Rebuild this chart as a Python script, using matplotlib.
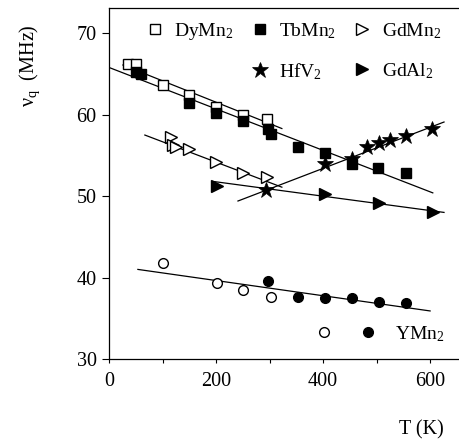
import matplotlib
matplotlib.use("Agg")
import matplotlib.pyplot as plt
from matplotlib.lines import Line2D
from matplotlib.legend_handler import HandlerTuple

plt.rcParams['font.family'] = ['Liberation Serif', 'DejaVu Serif']
plt.rcParams['mathtext.fontset'] = 'custom'
plt.rcParams['mathtext.rm'] = 'Liberation Serif'
plt.rcParams['mathtext.it'] = 'Liberation Serif:italic'

# ---- data ----
dy_T = [35, 50, 100, 150, 200, 250, 295]
dy_v = [66.2, 66.2, 63.6, 62.4, 61.0, 60.0, 59.5]
dy_fit_T = [26, 323]
dy_fit_v = [66.1, 58.3]

tb_T = [50, 60, 150, 200, 250, 297, 303, 353, 404, 454, 503, 555]
tb_v = [65.2, 65.0, 61.4, 60.2, 59.2, 58.2, 57.6, 56.0, 55.3, 54.0, 53.4, 52.8]
tb_fit_T = [0, 605]
tb_fit_v = [65.8, 50.4]

gd_T = [115, 120, 125, 150, 200, 250, 295]
gd_v = [57.2, 56.3, 56.0, 55.8, 54.2, 52.8, 52.3]
gd_fit_T = [67, 323]
gd_fit_v = [57.5, 51.1]

hf_T = [293, 404, 454, 482, 505, 525, 555, 604]
hf_v = [50.7, 54.0, 54.5, 56.0, 56.5, 56.9, 57.4, 58.3]
hf_fit_T = [241, 626]
hf_fit_v = [49.4, 59.1]

al_T = [202, 404, 505, 606]
al_v = [51.3, 50.2, 49.1, 48.0]
al_fit_T = [195, 626]
al_fit_v = [51.8, 48.0]

y_open_T = [101, 202, 250, 303]
y_open_v = [41.8, 39.3, 38.5, 37.6]
y_fill_T = [297, 353, 404, 454, 505, 555]
y_fill_v = [39.6, 37.6, 37.5, 37.5, 37.0, 36.9]
y_fit_T = [54, 600]
y_fit_v = [41.0, 35.9]

labels = ['DyMn$_2$', 'TbMn$_2$', 'GdMn$_2$', 'HfV$_2$', 'GdAl$_2$', 'YMn$_2$']
xticks = [0, 200, 400, 600]
yticks = [30, 40, 50, 60, 70]

# ---- figure ----
W, H = 459, 444
fig = plt.figure(figsize=(W / 100, H / 100), dpi=100)
ax = fig.add_axes([109 / W, (H - 359) / H, 1 - 109 / W, (359 - 8) / H])

lw = 0.9
kw = dict(color='black', lw=lw)
for ft, fv in [(dy_fit_T, dy_fit_v), (tb_fit_T, tb_fit_v), (gd_fit_T, gd_fit_v),
               (hf_fit_T, hf_fit_v), (al_fit_T, al_fit_v), (y_fit_T, y_fit_v)]:
    ax.plot(ft, fv, **kw)

mew = 1.0
h_dy, = ax.plot(dy_T, dy_v, ls='none', marker='s', ms=7.5, mfc='white', mec='black', mew=mew, label=labels[0])
h_tb, = ax.plot(tb_T, tb_v, ls='none', marker='s', ms=7.5, mfc='black', mec='black', mew=mew, label=labels[1])
h_gd, = ax.plot(gd_T, gd_v, ls='none', marker='>', ms=8.5, mfc='white', mec='black', mew=mew, label=labels[2])
h_hf, = ax.plot(hf_T, hf_v, ls='none', marker='*', ms=12, mfc='black', mec='black', mew=0.5, label=labels[3])
h_al, = ax.plot(al_T, al_v, ls='none', marker='>', ms=8.5, mfc='black', mec='black', mew=mew, label=labels[4])
h_yo, = ax.plot(y_open_T, y_open_v, ls='none', marker='o', ms=7, mfc='white', mec='black', mew=mew)
h_yf, = ax.plot(y_fill_T, y_fill_v, ls='none', marker='o', ms=7, mfc='black', mec='black', mew=mew)

ax.set_xlim(0, 654)
ax.set_ylim(30, 73.1)
ax.set_xticks(xticks)
ax.set_xticks([100, 300, 500], minor=True)
ax.set_yticks(yticks)
ax.tick_params(axis='both', which='both', direction='out', labelsize=14.5, width=0.8)
ax.tick_params(axis='y', length=5, pad=4)
ax.tick_params(axis='x', which='both', length=3, pad=6)
ax.spines['right'].set_visible(False)
for s in ['left', 'bottom', 'top']:
    ax.spines[s].set_linewidth(0.9)

fs_leg = 14
blank = Line2D([], [], ls='none')
leg1 = ax.legend([h_dy, blank, h_tb, h_hf, h_gd, h_al],
                 [labels[0], '', labels[1], labels[3], labels[2], labels[4]],
                 ncol=3, frameon=False, fontsize=fs_leg, handlelength=1.0, handletextpad=0.5,
                 columnspacing=0.85, labelspacing=1.05, borderpad=0, borderaxespad=0,
                 loc='upper left', bbox_to_anchor=(145 / W, 1 - 21 / H),
                 bbox_transform=fig.transFigure)
ax.add_artist(leg1)
ax.legend([(h_yo, h_yf)], [labels[5]], handler_map={tuple: HandlerTuple(ndivide=None, pad=0)},
          frameon=False, fontsize=fs_leg, handlelength=4.5, handletextpad=0.3,
          borderpad=0, borderaxespad=0, loc='center left',
          bbox_to_anchor=(302 / W, 1 - 334 / H), bbox_transform=fig.transFigure)

fig.text(30 / W, 1 - 66 / H, r'ν$_\mathrm{q}$  (MHz)', rotation=90, ha='center', va='center', fontsize=14.5)
fig.text(421 / W, 1 - 430 / H, 'T (K)', ha='center', va='center', fontsize=14.5)

fig.savefig('out.png', dpi=100)
